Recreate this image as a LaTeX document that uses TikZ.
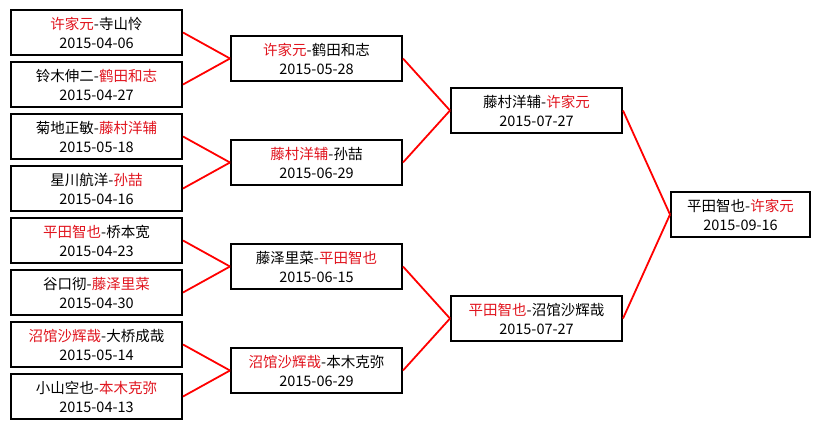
\documentclass[tikz,border=0pt]{standalone}
\usepackage{fontspec}
\setmainfont{Noto Sans CJK SC}
\usepackage{xcolor}
\usetikzlibrary{arrows}
\definecolor{winred}{RGB}{225,20,30}
\newcommand{\hl}[1]{\textcolor{winred}{#1}}

\begin{document}
\begin{tikzpicture}[x=1pt, y=-1pt,
  game/.style={draw=black, line width=2pt, fill=white, inner sep=0pt,
    minimum width=171pt, minimum height=45pt, align=center,
    font=\fontsize{14.5}{19}\selectfont},
  link/.style={draw=red, line width=1.8pt}]
\fill[white] (0,0) rectangle (820,429);
\useasboundingbox (0,0) rectangle (820,429);

% first round
\node [game] (a1) at (96.5,32.5)  {\hl{许家元}-寺山怜\\2015-04-06};
\node [game] (a2) at (96.5,84.5)  {铃木伸二-\hl{鹤田和志}\\2015-04-27};
\node [game] (a3) at (96.5,136.5) {菊地正敏-\hl{藤村洋辅}\\2015-05-18};
\node [game] (a4) at (96.5,188.5) {星川航洋-\hl{孙喆}\\2015-04-16};
\node [game] (a5) at (96.5,240.5) {\hl{平田智也}-桥本宽\\2015-04-23};
\node [game] (a6) at (96.5,292.5) {谷口彻-\hl{藤泽里菜}\\2015-04-30};
\node [game] (a7) at (96.5,344.5) {\hl{沼馆沙辉哉}-大桥成哉\\2015-05-14};
\node [game] (a8) at (96.5,396.5) {小山空也-\hl{本木克弥}\\2015-04-13};

% second round
\node [game] (b1) at (316.5,58.5)  {\hl{许家元}-鹤田和志\\2015-05-28};
\node [game] (b2) at (316.5,162.5) {\hl{藤村洋辅}-孙喆\\2015-06-29};
\node [game] (b3) at (316.5,266.5) {藤泽里菜-\hl{平田智也}\\2015-06-15};
\node [game] (b4) at (316.5,370.5) {\hl{沼馆沙辉哉}-本木克弥\\2015-06-29};

% semifinals
\node [game] (c1) at (536.5,110.5) {藤村洋辅-\hl{许家元}\\2015-07-27};
\node [game] (c2) at (536.5,318.5) {\hl{平田智也}-沼馆沙辉哉\\2015-07-27};

% final
\node [game, minimum width=139pt] (d1) at (740.5,214.5) {平田智也-\hl{许家元}\\2015-09-16};

\foreach \from/\to in {a1/b1, a2/b1, a3/b2, a4/b2, a5/b3, a6/b3, a7/b4, a8/b4,
                       b1/c1, b2/c1, b3/c2, b4/c2, c1/d1, c2/d1}
  \draw [link] (\from.east) -- (\to.west);
\end{tikzpicture}
\end{document}
